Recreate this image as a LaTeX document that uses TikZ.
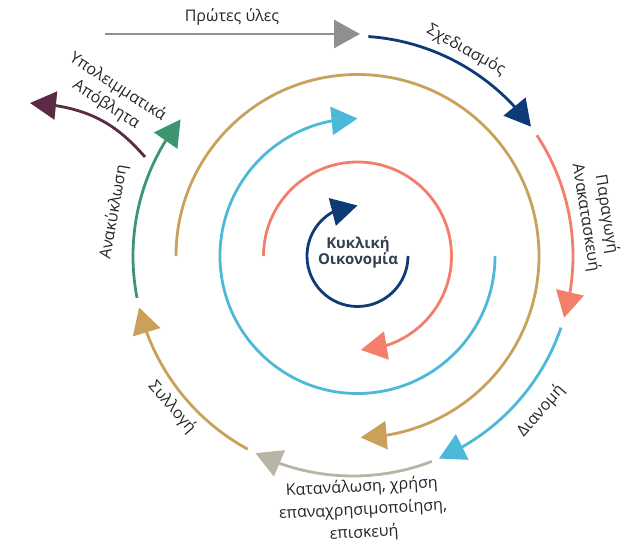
\documentclass[tikz,border=0pt]{standalone}
\usepackage{fontspec}
\setmainfont{Open Sans}
\usetikzlibrary{arrows.meta,calc,bending}
\definecolor{cnavy}{HTML}{0E3A78}
\definecolor{csalmon}{HTML}{F47E6C}
\definecolor{clblue}{HTML}{4DB9D8}
\definecolor{cbeige}{HTML}{B9B3A8}
\definecolor{cgold}{HTML}{C9A15A}
\definecolor{cgreen}{HTML}{3E9670}
\definecolor{cpurple}{HTML}{5B2A45}
\definecolor{cgray}{HTML}{8F8F8F}
\definecolor{ctext}{HTML}{262626}
\definecolor{cctext}{HTML}{36404C}
\begin{document}
\begin{tikzpicture}[x=1pt,y=1pt,
  ring/.style={line width=2.8pt},
  tipend/.style={-{Triangle[length=26pt,width=28pt,flex]}},
  lbl/.style={font=\fontsize{16}{21}\selectfont, text=ctext, align=center, inner sep=0pt},
  ctr/.style={font=\fontsize{15}{15.5}\selectfont\bfseries, text=cctext, align=center, inner sep=0pt}]
\useasboundingbox (0,0) rectangle (631,-545);
\coordinate (Co) at (353,-256);
\coordinate (Ci) at (357.5,-256);
% outer cycle
\coordinate (gs) at (105,-34);
\coordinate (ge) at (360,-34);
\draw[ring,cgray,tipend] (gs) -- (ge);
\draw[ring,cnavy,tipend] ($(Co)+(86:220)$) arc[start angle=86,end angle=36,radius=220];
\draw[ring,csalmon,tipend] ($(Co)+(33.3:220)$) arc[start angle=33.3,end angle=-16.3,radius=220];
\draw[ring,clblue,tipend] ($(Co)+(-19:220)$) arc[start angle=-19,end angle=-67,radius=220];
\draw[ring,cbeige,tipend] ($(Co)+(-69:220)$) arc[start angle=-69,end angle=-116.3,radius=220];
\draw[ring,cgold,tipend] ($(Co)+(-118.6:220)$) arc[start angle=-118.6,end angle=-166.5,radius=220];
\draw[ring,cgreen,tipend] ($(Co)+(191:220)$) arc[start angle=191,end angle=141.6,radius=220];
\coordinate (ps) at (145,-157);
\coordinate (pe) at (30,-103);
\draw[ring,cpurple,tipend] (ps) .. controls (118,-126) and (90,-106) .. (pe);
% inner rings
\draw[ring,cgold,tipend] ($(Ci)+(180:181.5)$) arc[start angle=180,end angle=-89,radius=181.5];
\draw[ring,clblue,tipend] ($(Ci)+(0:137.5)$) arc[start angle=0,end angle=-270,radius=137.5];
\draw[ring,csalmon,tipend] ($(Ci)+(180:94)$) arc[start angle=180,end angle=-88,radius=94];
\draw[ring,cnavy,tipend] ($(Ci)+(0:50.5)$) arc[start angle=0,end angle=-270,radius=50.5];
% labels
\node[ctr] (center) at (358,-252.5) {Κυκλική\\Οικονομία};
\node[lbl] (raw) at (232,-17) {Πρώτες ύλες};
\node[lbl,rotate=-29] (design) at (466,-50) {Σχεδιασμός};
\node[lbl,rotate=-81] (prod) at (596,-216) {Παραγωγή\\Ανακατασκευή};
\node[lbl,rotate=49] (dist) at (541,-411) {Διανομή};
\node[lbl,rotate=3,font=\fontsize{16}{23}\selectfont] (cons) at (363,-510) {Κατανάλωση, χρήση\\επαναχρησιμοποίηση,\\επισκευή};
\node[lbl,rotate=-49] (coll) at (172,-407) {Συλλογή};
\node[lbl,rotate=80] (recy) at (114,-212) {Ανακύκλωση};
\node[lbl,rotate=-33] (waste) at (112,-96) {Υπολειμματικά\\Απόβλητα};
\end{tikzpicture}
\end{document}
